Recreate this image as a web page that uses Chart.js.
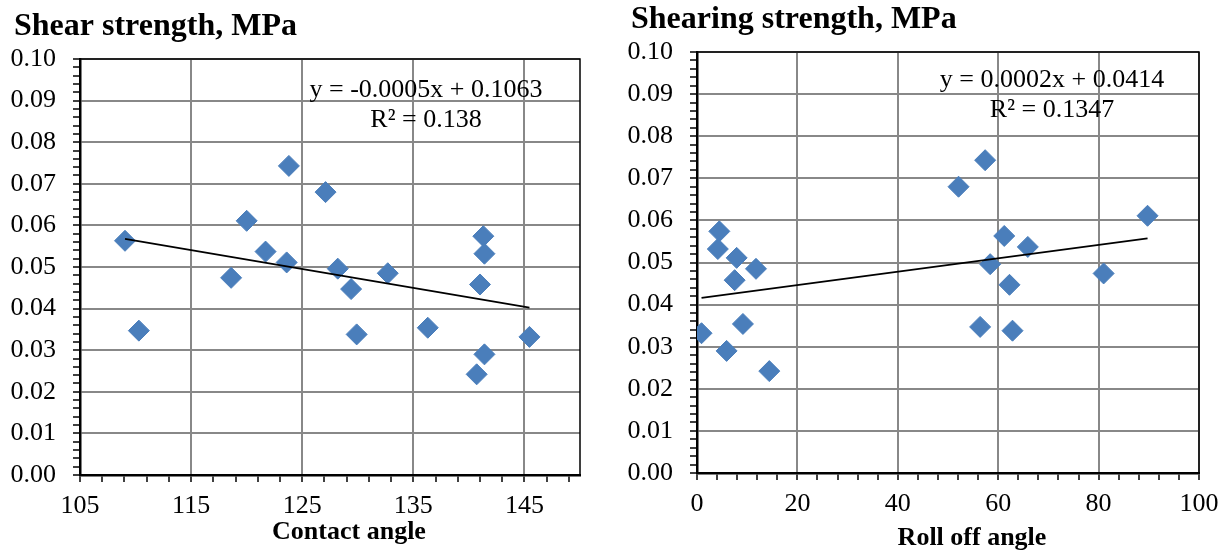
<!DOCTYPE html>
<html>
<head>
<meta charset="utf-8">
<title>Shear strength vs contact angle and roll off angle</title>
<script src="https://cdn.jsdelivr.net/npm/chart.js@4"></script>
<style>
  body { margin: 0; background: #fff; }
  .box { position: absolute; top: 0; width: 615px; height: 556px; }
  #left { left: 0; }
  #right { left: 615px; }
</style>
</head>
<body>
<div class="box" id="left"><canvas id="chartContact" width="615" height="556"></canvas></div>
<div class="box" id="right"><canvas id="chartRoll" width="615" height="556"></canvas></div>

<script>
// measured samples, same order in every array
let shear = [0.0563, 0.0347, 0.0474, 0.0611, 0.0537, 0.0743, 0.0511, 0.0680, 0.0496, 0.0447,
             0.0338, 0.0485, 0.0354, 0.0574, 0.0532, 0.0458, 0.0290, 0.0242, 0.0332];
let contactAngle = [109.05, 110.3, 118.6, 120.0, 121.7, 123.8, 123.6, 127.1, 128.2, 129.4,
                    129.9, 132.7, 136.3, 141.3, 141.4, 141.0, 141.4, 140.7, 145.45];
let rollOff = [61.2, 56.4, 81.0, 89.75, 65.9, 57.4, 7.9, 52.1, 58.4, 62.25,
               62.85, 11.75, 9.15, 4.45, 4.15, 7.5, 5.9, 14.4, 0.9];

// axis ranges and tick steps
let yRange = [0, 0.10], yMinor = 0.002, yMajor = 0.01;
let contactRange = [105, 150], contactMinor = 2, contactLabels = [105, 115, 125, 135, 145];
let rollRange = [0, 100], rollMinor = 4, rollLabels = [0, 20, 40, 60, 80, 100];

let FONT = "'Liberation Serif', 'Times New Roman', serif";
let BLUE = "#4A7EBB";
let GRID = "#888888";

Chart.defaults.color = "#000";
Chart.defaults.font.family = FONT;

function fitLine(xs, ys){
  let n = xs.length;
  let mx = xs.reduce((a,b)=>a+b,0)/n;
  let my = ys.reduce((a,b)=>a+b,0)/n;
  let sxy = 0, sxx = 0;
  xs.forEach((x,i)=>{ sxy += (x-mx)*(ys[i]-my); sxx += (x-mx)*(x-mx); });
  let slope = sxy/sxx;
  let icpt = my - slope*mx;
  let x0 = Math.min(...xs), x1 = Math.max(...xs);
  return [{x:x0, y:icpt+slope*x0}, {x:x1, y:icpt+slope*x1}];
}

function stepTicks(min, max, step){
  let out = [];
  for(let i=0; min + i*step <= max + 1e-9; i++){
    out.push({value: Math.round((min + i*step)*1e6)/1e6});
  }
  return out;
}

function isMajorY(v){
  return Math.abs(v/yMajor - Math.round(v/yMajor)) < 1e-6;
}

// texts drawn straight on the canvas, plus the top/right frame of the plot
let textPlugin = {
  id: "texts",
  beforeDatasetsDraw(chart){
    let a = chart.chartArea, ctx = chart.ctx;
    ctx.save();
    ctx.strokeStyle = "#000";
    ctx.lineWidth = 1.5;
    ctx.beginPath();
    ctx.moveTo(a.left, a.top);
    ctx.lineTo(a.right, a.top);
    ctx.lineTo(a.right, a.bottom);
    ctx.stroke();
    ctx.restore();
  },
  afterDraw(chart, args, opts){
    let ctx = chart.ctx;
    ctx.save();
    ctx.fillStyle = "#000";
    ctx.textBaseline = "alphabetic";
    (opts.items || []).forEach(t=>{
      ctx.font = t.font;
      ctx.textAlign = t.align;
      ctx.fillText(t.text, t.x, t.y);
    });
    ctx.restore();
  }
};

function makeChart(id, xs, xRange, xMinor, xLabels, area, texts){
  let xMajor = v => xLabels.some(l => Math.abs(l - v) < 1e-6);
  return new Chart(document.getElementById(id), {
    type: "scatter",
    data: {
      datasets: [
        {
          data: fitLine(xs, shear),
          showLine: true,
          pointRadius: 0,
          borderColor: "#000",
          borderWidth: 1.75,
          fill: false
        },
        {
          data: xs.map((x,i)=>({x:x, y:shear[i]})),
          pointStyle: "rectRot",
          pointRadius: 10.5,
          backgroundColor: BLUE,
          borderColor: BLUE,
          borderWidth: 1
        }
      ]
    },
    options: {
      responsive: false,
      animation: false,
      events: [],
      layout: { padding: { left: 0, right: area.right, top: area.top, bottom: 0 } },
      plugins: {
        legend: { display: false },
        tooltip: { enabled: false },
        texts: { items: texts }
      },
      scales: {
        x: {
          type: "linear",
          min: xRange[0],
          max: xRange[1],
          afterBuildTicks: s => { s.ticks = stepTicks(xRange[0], xRange[1], xMinor); },
          afterFit: s => { s.height = area.xh; },
          ticks: {
            autoSkip: false,
            maxRotation: 0,
            padding: 9,
            font: { size: 26 },
            callback: v => xMajor(v) ? String(v) : ""
          },
          grid: {
            color: c => xMajor(c.tick.value) ? GRID : "rgba(0,0,0,0)",
            lineWidth: 2,
            tickLength: 7,
            tickColor: "#000",
            tickWidth: 1.5
          },
          border: { color: "#000", width: 2.5 }
        },
        y: {
          type: "linear",
          min: yRange[0],
          max: yRange[1],
          afterBuildTicks: s => { s.ticks = stepTicks(yRange[0], yRange[1], yMinor); },
          afterFit: s => { s.width = area.yw; },
          ticks: {
            autoSkip: false,
            padding: 17,
            font: { size: 26 },
            callback: v => isMajorY(v) ? v.toFixed(2) : ""
          },
          grid: {
            color: c => isMajorY(c.tick.value) ? GRID : "rgba(0,0,0,0)",
            lineWidth: 2,
            tickLength: 7,
            tickColor: "#000",
            tickWidth: 1.5
          },
          border: { color: "#000", width: 2.5 }
        }
      }
    },
    plugins: [textPlugin]
  });
}

makeChart("chartContact", contactAngle, contactRange, contactMinor, contactLabels,
  { yw: 80, right: 35, top: 59, xh: 81 },
  [
    { text: "Shear strength, MPa", x: 14, y: 35, align: "left", font: "bold 32px " + FONT },
    { text: "Contact angle", x: 349, y: 539, align: "center", font: "bold 26px " + FONT },
    { text: "y = -0.0005x + 0.1063", x: 426, y: 97, align: "center", font: "26px " + FONT },
    { text: "R² = 0.138", x: 426, y: 127, align: "center", font: "26px " + FONT }
  ]);

makeChart("chartRoll", rollOff, rollRange, rollMinor, rollLabels,
  { yw: 82, right: 31, top: 52, xh: 83 },
  [
    { text: "Shearing strength, MPa", x: 16, y: 28, align: "left", font: "bold 32px " + FONT },
    { text: "Roll off angle", x: 357, y: 545, align: "center", font: "bold 26px " + FONT },
    { text: "y = 0.0002x + 0.0414", x: 437, y: 87, align: "center", font: "26px " + FONT },
    { text: "R² = 0.1347", x: 437, y: 117, align: "center", font: "26px " + FONT }
  ]);
</script>
</body>
</html>
